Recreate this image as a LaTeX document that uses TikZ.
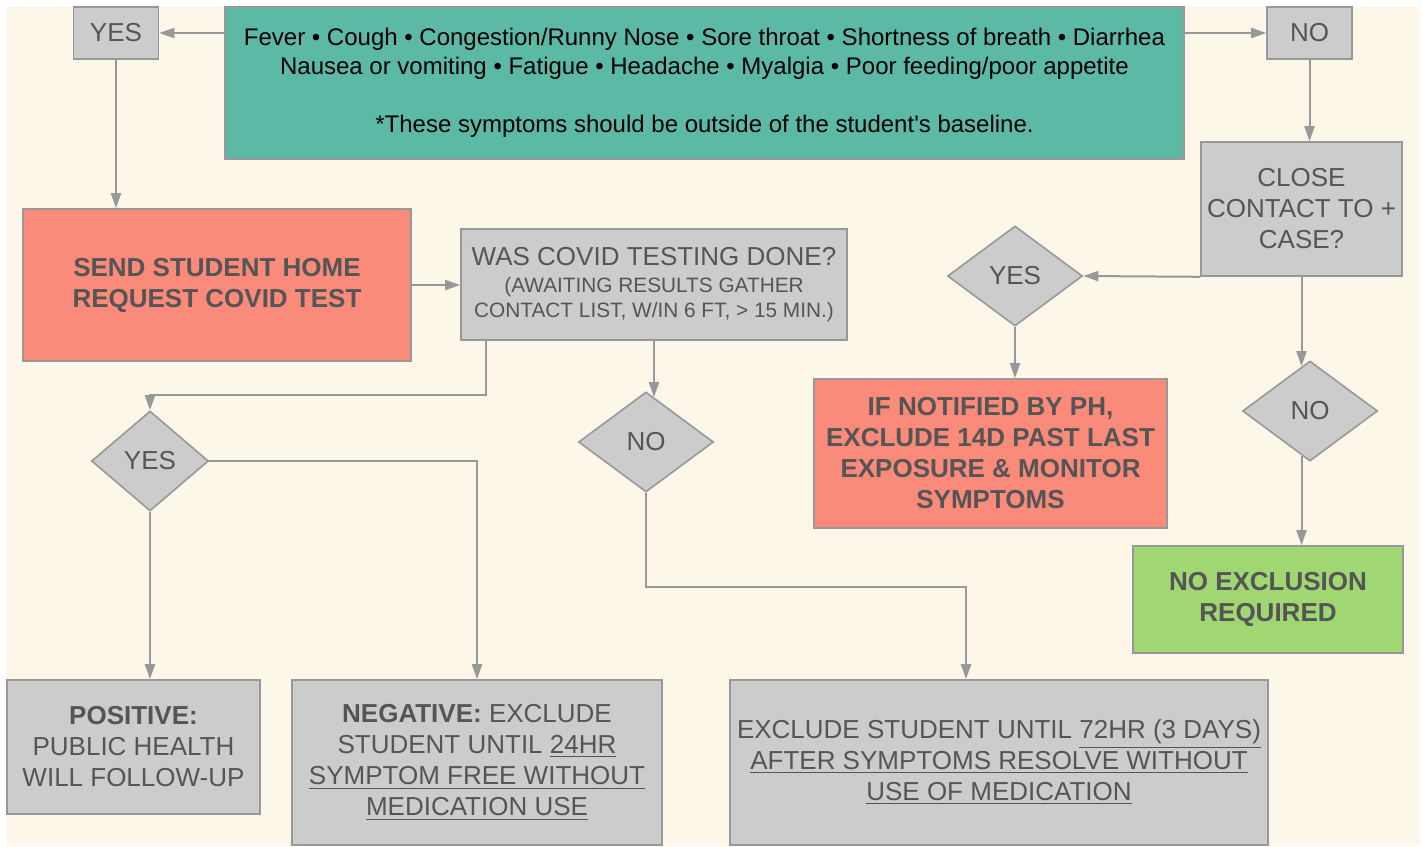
\documentclass[tikz,border=0pt]{standalone}
\usepackage{fontspec}
\setmainfont{Liberation Sans}
\usetikzlibrary{shapes.geometric,arrows.meta,calc}
\definecolor{cream}{HTML}{FDF7EA}
\definecolor{symteal}{HTML}{5BB9A6}
\definecolor{boxgray}{HTML}{CCCCCC}
\definecolor{salmon}{HTML}{FA8A7A}
\definecolor{okgreen}{HTML}{A0D773}
\definecolor{linegray}{HTML}{989898}
\definecolor{txtgray}{HTML}{555555}
\newcommand{\subtxt}[1]{{\fontsize{10.4}{12.5}\selectfont #1}}
\tikzset{
  wh/.style 2 args={minimum width=#1*0.5pt, minimum height=#2*0.5pt},
  box/.style={draw=linegray, line width=0.8pt, fill=boxgray, text=txtgray,
    align=center, inner sep=0pt, font=\fontsize{13}{15.5}\selectfont},
  boldbox/.style={box, font=\fontsize{13}{15.5}\selectfont\bfseries},
  decide/.style={diamond, draw=linegray, line width=0.8pt, fill=boxgray,
    text=txtgray, inner sep=0pt, font=\fontsize{13}{15.5}\selectfont,
    minimum width=67.5pt, minimum height=50pt},
  flow/.style={draw=linegray, line width=1pt, -{Triangle[length=7.5pt,width=5pt]}}
}
\begin{document}
\begin{tikzpicture}[x=0.5pt, y=-0.5pt]
  \useasboundingbox (0,0) rectangle (1422,846);
  \fill[cream] (6,7) rectangle (1420,846);

  \node[box, wh={85}{52}] (yesA) at (116,33) {YES};
  \node[box, wh={959}{152}, fill=symteal, text=black, font=\fontsize{12}{14.5}\selectfont] (signs) at (704.5,83)
    {Fever • Cough • Congestion/Runny Nose • Sore throat • Shortness of breath • Diarrhea\\
     Nausea or vomiting • Fatigue • Headache • Myalgia • Poor feeding/poor appetite\\[14.5pt]
     *These symptoms should be outside of the student\textquotesingle s baseline.};
  \node[box, wh={85}{52}] (noA) at (1309.5,33) {NO};
  \node[box, wh={201}{134}] (contact) at (1301.5,209) {CLOSE\\CONTACT TO +\\CASE?};
  \node[boldbox, wh={388}{152}, fill=salmon] (home) at (217,285) {SEND STUDENT HOME\\REQUEST COVID TEST};
  \node[box, wh={386}{111}, font=\fontsize{13}{12.5}\selectfont] (tested) at (654,284.5)
    {WAS COVID TESTING DONE?\\[1pt]\subtxt{(AWAITING RESULTS GATHER}\\\subtxt{CONTACT LIST, W/IN 6 FT, > 15 MIN.)}};
  \node[decide, minimum width=58.5pt] (yesB) at (150,461) {YES};
  \node[decide] (noB) at (646,442) {NO};
  \node[decide] (yesC) at (1015,276) {YES};
  \node[decide] (noC) at (1310,411) {NO};
  \node[boldbox, wh={353}{149}, fill=salmon] (notify) at (990.5,453.5)
    {IF NOTIFIED BY PH,\\EXCLUDE 14D PAST LAST\\EXPOSURE \& MONITOR\\SYMPTOMS};
  \node[boldbox, wh={270}{107}, fill=okgreen] (clear) at (1268,599.5) {NO EXCLUSION\\REQUIRED};
  \node[box, wh={253}{134}] (positive) at (133.5,747) {\textbf{POSITIVE:}\\PUBLIC HEALTH\\WILL FOLLOW-UP};
  \node[box, wh={370}{165}] (negative) at (477,762.5)
    {\textbf{NEGATIVE:} EXCLUDE\\STUDENT UNTIL \underline{24HR}\\\underline{SYMPTOM FREE WITHOUT}\\\underline{MEDICATION USE}};
  \node[box, wh={538}{165}] (exclude) at (999,762.5)
    {EXCLUDE STUDENT UNTIL \underline{72HR (3 DAYS)}\\\underline{AFTER SYMPTOMS RESOLVE WITHOUT}\\\underline{USE OF MEDICATION}};

  \draw[flow] (signs.west |- yesA) -- (yesA);
  \draw[flow] (signs.east |- noA) -- (noA);
  \draw[flow] (yesA.south) -- (yesA.south |- home.north);
  \draw[flow] (noA.south) -- (noA.south |- contact.north);
  \draw[flow] (home.east) -- (home.east -| tested.west);
  \draw[flow] ($(tested.south west)+(26,0)$) -- ++(0,54) -| (yesB.north);
  \draw[flow] (tested.south) -- ([yshift=-3pt]tested.south |- noB.north);
  \draw[flow] (yesB.east) -| (negative.north);
  \draw[flow] (yesB.south) -- (yesB.south |- positive.north);
  \draw[flow] (noB.south) -- ++(0,94) -| ($(exclude.north)+(-33,0)$);
  \draw[flow] (contact.south west) -- (yesC.east);
  \draw[flow] (contact.south) -- ([yshift=-3pt]contact.south |- noC.north);
  \draw[flow] (yesC.south) -- (yesC.south |- notify.north);
  \draw[flow] ([yshift=3pt]contact.south |- noC.south) -- (contact.south |- clear.north);
\end{tikzpicture}
\end{document}
